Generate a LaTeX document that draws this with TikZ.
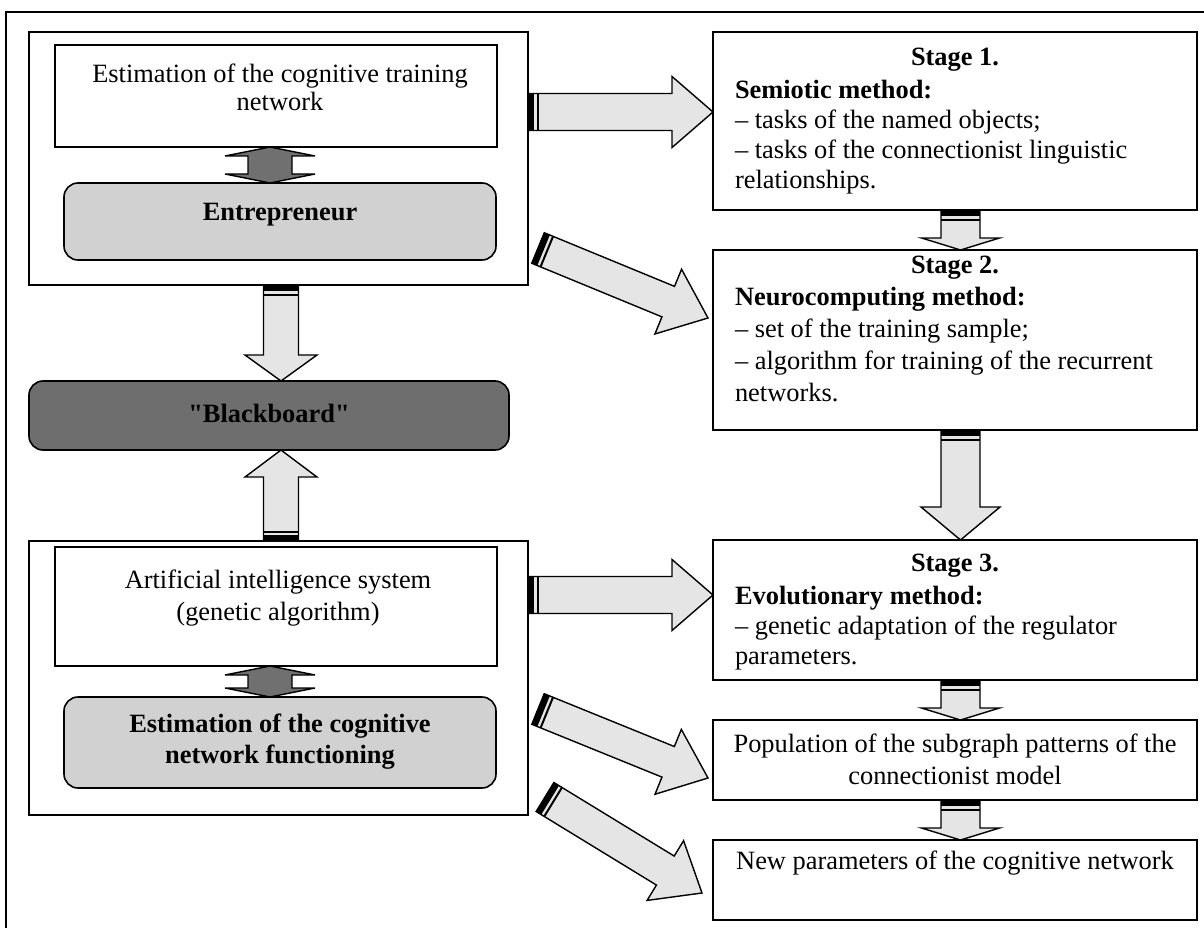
\documentclass[tikz,border=0pt]{standalone}
\usepackage{fontspec}
\setmainfont{Liberation Serif}[Ligatures=TeXOff]
\usetikzlibrary{calc}
\definecolor{arrowfill}{gray}{0.9}
\definecolor{panelfill}{gray}{0.82}
\definecolor{boardfill}{gray}{0.43}
\definecolor{dblfill}{gray}{0.44}
% block arrow with striped tail: #1 from, #2 to, #3 half shaft, #4 half head, #5 head length
\newcommand{\blockarrow}[5]{%
  \pgfmathanglebetweenpoints{\pgfpointanchor{#1}{center}}{\pgfpointanchor{#2}{center}}%
  \let\baAng\pgfmathresult
  \pgfpointdiff{\pgfpointanchor{#1}{center}}{\pgfpointanchor{#2}{center}}%
  \pgfgetlastxy{\baX}{\baY}%
  \pgfmathsetmacro\baLen{veclen(\baX,\baY)}%
  \begin{scope}[shift={(#1)},rotate=\baAng]
    \draw[blockstyle] (0,-#3) -- ({\baLen-#5},-#3) -- ({\baLen-#5},-#4) -- (\baLen,0)
      -- ({\baLen-#5},#4) -- ({\baLen-#5},#3) -- (0,#3) -- cycle;
    \fill (0,-#3) rectangle (6,#3);
    \fill (8.5,-#3) rectangle (10.5,#3);
  \end{scope}}
% double-headed arrow: #1 from, #2 to, #3 half shaft, #4 half head, #5 head length
\newcommand{\dblarrow}[5]{%
  \pgfmathanglebetweenpoints{\pgfpointanchor{#1}{center}}{\pgfpointanchor{#2}{center}}%
  \let\baAng\pgfmathresult
  \pgfpointdiff{\pgfpointanchor{#1}{center}}{\pgfpointanchor{#2}{center}}%
  \pgfgetlastxy{\baX}{\baY}%
  \pgfmathsetmacro\baLen{veclen(\baX,\baY)}%
  \begin{scope}[shift={(#1)},rotate=\baAng]
    \draw[dblstyle] (0,0) -- (#5,-#4) -- (#5,-#3) -- ({\baLen-#5},-#3) -- ({\baLen-#5},-#4)
      -- (\baLen,0) -- ({\baLen-#5},#4) -- ({\baLen-#5},#3) -- (#5,#3) -- (#5,#4) -- cycle;
  \end{scope}}
\begin{document}
\begin{tikzpicture}[x=1pt,y=-1pt,
  every node/.style={font=\fontsize{26.4}{31}\selectfont},
  frame/.style={draw, line width=1.6pt, inner sep=0pt, outer sep=0pt},
  whitebox/.style={frame, fill=white},
  panel/.style={frame, fill=panelfill, rounded corners=14pt},
  rightbox/.style={frame, fill=white, minimum width=484pt},
  txt/.style={inner sep=0pt, outer sep=0pt},
  blockstyle/.style={draw=black, fill=arrowfill, line width=1.4pt, line join=miter},
  dblstyle/.style={draw=black, fill=dblfill, line width=1.4pt, line join=miter}]
\useasboundingbox (0,0) rectangle (1204,928);
\draw[line width=2.6pt] (6,12) rectangle (1220,945);

% left column
\node[frame, minimum width=499pt, minimum height=253pt] (g1) at (278.5,158.5) {};
\node[whitebox, minimum width=442pt, minimum height=102pt] (est) at (276,96) {};
\node[panel, minimum width=432pt, minimum height=77pt] (ent) at (280,221.5) {};
\node[frame, fill=boardfill, rounded corners=14pt, minimum width=480pt, minimum height=69pt] (board) at (269,415.5) {};
\node[frame, minimum width=499pt, minimum height=274pt] (g2) at (278.5,678) {};
\node[whitebox, minimum width=442pt, minimum height=119pt] (ai) at (276,606.5) {};
\node[panel, minimum width=432pt, minimum height=91pt] (est2) at (280,742.5) {};

% right column
\node[rightbox, minimum height=178pt] (s1) at (955,121) {};
\node[rightbox, minimum height=180pt] (s2) at (955,340) {};
\node[rightbox, minimum height=140pt] (s3) at (955,610) {};
\node[rightbox, minimum height=80pt] (pop) at (955,760) {};
\node[rightbox, minimum height=80pt] (newp) at (955,880) {};

% connector end points
\coordinate (a1s) at (g1.east |- 0,112);
\coordinate (a1e) at (s1.west |- 0,112);
\coordinate (a2s) at (538,248);
\coordinate (a2e) at (708,318);
\coordinate (a3s) at (g1.south -| 281,0);
\coordinate (a3e) at (board.north -| 281,0);
\coordinate (a4s) at (g2.north -| 281,0);
\coordinate (a4e) at (board.south -| 281,0);
\coordinate (a5s) at (s1.south -| 960.5,0);
\coordinate (a5e) at (s2.north -| 960.5,0);
\coordinate (a6s) at (s2.south -| 960.5,0);
\coordinate (a6e) at (s3.north -| 960.5,0);
\coordinate (a7s) at (g2.east |- 0,595);
\coordinate (a7e) at (s3.west |- 0,595);
\coordinate (a8s) at (s3.south -| 960.5,0);
\coordinate (a8e) at (pop.north -| 960.5,0);
\coordinate (a9s) at (pop.south -| 960.5,0);
\coordinate (a9e) at (newp.north -| 960.5,0);
\coordinate (a10s) at (538,709);
\coordinate (a10e) at (708,778);
\coordinate (a11s) at (545,797);
\coordinate (a11e) at (702,893);
\coordinate (d1s) at (est.south -| 270,0);
\coordinate (d1e) at (ent.north -| 270,0);
\coordinate (d2s) at (ai.south -| 270,0);
\coordinate (d2e) at (est2.north -| 270,0);

% connectors
\blockarrow{a1s}{a1e}{18.5}{35.5}{41}
\blockarrow{a2s}{a2e}{16.5}{35}{43}
\blockarrow{a3s}{a3e}{17.5}{36}{26}
\blockarrow{a4s}{a4e}{17.5}{36}{27}
\blockarrow{a5s}{a5e}{19.5}{39}{12}
\blockarrow{a6s}{a6e}{19.5}{39.5}{33}
\blockarrow{a7s}{a7e}{18.5}{35.5}{41}
\blockarrow{a8s}{a8e}{19.5}{39}{12}
\blockarrow{a9s}{a9e}{19.5}{39}{12}
\blockarrow{a10s}{a10e}{16.5}{35}{43}
\blockarrow{a11s}{a11e}{17}{35}{43}
\dblarrow{d1s}{d1e}{22}{45}{9}
\dblarrow{d2s}{d2e}{22}{45}{9}

% texts
\node[txt, align=center, font=\fontsize{26.4}{28}\selectfont] (estT) at (280,87) {Estimation of the cognitive training\\network};
\node[txt, font=\fontsize{26.4}{31}\selectfont\bfseries] (entT) at (280,215) {Entrepreneur};
\node[txt, font=\fontsize{26.4}{31}\selectfont\bfseries] (boardT) at (269,413) {"Blackboard"};
\node[txt, align=center, font=\fontsize{26.4}{32}\selectfont] (aiT) at (278,598) {Artificial intelligence system\\(genetic algorithm)};
\node[txt, align=center, font=\fontsize{26.4}{31}\selectfont\bfseries] (est2T) at (280,742) {Estimation of the cognitive\\network functioning};

\node[txt, font=\fontsize{26.4}{31}\selectfont\bfseries] (s1H) at (955,60) {Stage 1.};
\node[txt, align=left, anchor=north west, font=\fontsize{26.4}{30}\selectfont] (s1T) at (735,80)
  {\textbf{Semiotic method:}\\– tasks of the named objects;\\– tasks of the connectionist linguistic\\relationships.};
\node[txt, font=\fontsize{26.4}{31}\selectfont\bfseries] (s2H) at (955,268) {Stage 2.};
\node[txt, align=left, anchor=north west, font=\fontsize{26.4}{32}\selectfont] (s2T) at (735,287)
  {\textbf{Neurocomputing method:}\\– set of the training sample;\\– algorithm for training of the recurrent\\networks.};
\node[txt, font=\fontsize{26.4}{31}\selectfont\bfseries] (s3H) at (955,566) {Stage 3.};
\node[txt, align=left, anchor=north west, font=\fontsize{26.4}{30}\selectfont] (s3T) at (735,586)
  {\textbf{Evolutionary method:}\\– genetic adaptation of the regulator\\parameters.};
\node[txt, align=center, font=\fontsize{26.4}{32}\selectfont] (popT) at (955,759) {Population of the subgraph patterns of the\\connectionist model};
\node[txt] (newT) at (955,863) {New parameters of the cognitive network};
\end{tikzpicture}
\end{document}
